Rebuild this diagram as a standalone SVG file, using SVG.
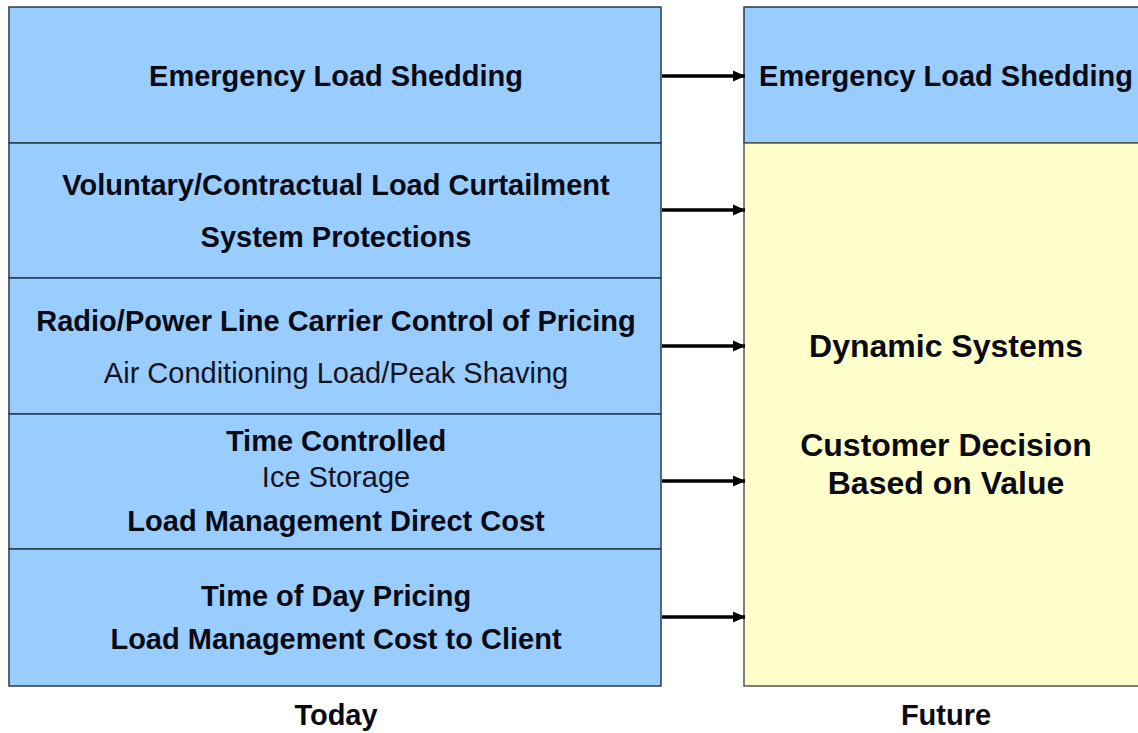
<svg xmlns="http://www.w3.org/2000/svg" width="1138" height="733" viewBox="0 0 1138 733">
<style>
.blue{fill:#99CCFF;stroke:#2B3A48;stroke-width:1.5}
.yel{fill:#FFFFCC;stroke:#555;stroke-width:1.5}
.b{font-family:"Liberation Sans",Arial,sans-serif;font-weight:bold;font-size:29px;fill:#0A0A14;text-anchor:middle}
.r{font-family:"Liberation Sans",Arial,sans-serif;font-size:29px;fill:#14141E;text-anchor:middle}
.big{font-size:32px}
.arr{stroke:#000;stroke-width:3.5;fill:none;marker-end:url(#ah)}
</style>
<defs>
<marker id="ah" markerWidth="4" markerHeight="4" refX="3.5" refY="2" orient="auto" markerUnits="strokeWidth">
<path d="M0,0.4 L3.6,2 L0,3.6 Z" fill="#000"/>
</marker>
</defs>
<rect width="1138" height="733" fill="#fff"/>
<g id="today-emergency">
<rect class="blue" x="9" y="7" width="652" height="136"/>
<text class="b" x="336" y="86">Emergency Load Shedding</text>
</g>
<g id="today-voluntary">
<rect class="blue" x="9" y="143" width="652" height="135"/>
<text class="b" x="336" y="195">Voluntary/Contractual Load Curtailment</text>
<text class="b" x="336" y="247">System Protections</text>
</g>
<g id="today-radio">
<rect class="blue" x="9" y="278" width="652" height="136"/>
<text class="b" x="336" y="331">Radio/Power Line Carrier Control of Pricing</text>
<text class="r" x="336" y="383">Air Conditioning Load/Peak Shaving</text>
</g>
<g id="today-time">
<rect class="blue" x="9" y="414" width="652" height="135"/>
<text class="b" x="336" y="451">Time Controlled</text>
<text class="r" x="336" y="487">Ice Storage</text>
<text class="b" x="336" y="531">Load Management Direct Cost</text>
</g>
<g id="today-tod">
<rect class="blue" x="9" y="549" width="652" height="137"/>
<text class="b" x="336" y="606">Time of Day Pricing</text>
<text class="b" x="336" y="649">Load Management Cost to Client</text>
</g>
<g id="future-emergency">
<rect class="blue" x="744" y="7" width="410" height="136"/>
<text class="b" x="946" y="86">Emergency Load Shedding</text>
</g>
<g id="future-dynamic">
<rect class="yel" x="744" y="143" width="410" height="543"/>
<text class="b big" x="946" y="357">Dynamic Systems</text>
<text class="b big" x="946" y="456">Customer Decision</text>
<text class="b big" x="946" y="494">Based on Value</text>
</g>
<g id="labels">
<text class="b" x="336" y="725">Today</text>
<text class="b" x="946" y="725">Future</text>
</g>
<g id="connectors">
<line class="arr" x1="662" y1="76" x2="745" y2="76"/>
<line class="arr" x1="662" y1="210" x2="745" y2="210"/>
<line class="arr" x1="662" y1="346" x2="745" y2="346"/>
<line class="arr" x1="662" y1="481" x2="745" y2="481"/>
<line class="arr" x1="662" y1="617" x2="745" y2="617"/>
</g>
</svg>
